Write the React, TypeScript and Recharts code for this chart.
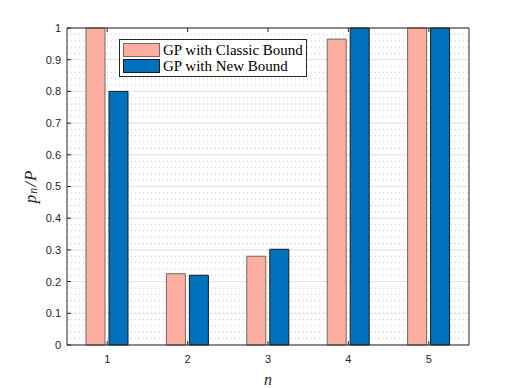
import React from 'react';
import { BarChart, Bar, XAxis, YAxis, CartesianGrid, Legend } from 'recharts';

const categories = ['1', '2', '3', '4', '5'];
const classicBound = [1, 0.225, 0.28, 0.965, 1];
const newBound = [0.8, 0.22, 0.302, 1, 1];
const yTicks = [0, 0.1, 0.2, 0.3, 0.4, 0.5, 0.6, 0.7, 0.8, 0.9, 1];
const minorTicks = Array.from({ length: 51 }, (_, i) => i / 50);

const PINK = '#FDAEA0';
const BLUE = '#0072BD';
const AXIS = '#262626';

const data = categories.map((n, i) => ({ n, classic: classicBound[i], nb: newBound[i] }));

const YLabel = ({ viewBox }: any) => {
  const cx = 30;
  const cy = viewBox.y + viewBox.height / 2;
  return (
    <text
      x={cx}
      y={cy}
      transform={`rotate(-90 ${cx} ${cy})`}
      textAnchor="middle"
      dominantBaseline="central"
      fontFamily="'Liberation Serif', serif"
      fontStyle="italic"
      fontSize={17}
      letterSpacing={1}
      fill={AXIS}
    >
      p<tspan fontSize={12} dy={3}>n</tspan>
      <tspan dy={-3}>/P</tspan>
    </text>
  );
};

const LegendBox = () => (
  <div
    style={{
      border: `1px solid ${AXIS}`,
      background: '#fff',
      padding: '2px 3px 2px 3px',
      fontFamily: "'Liberation Serif', serif",
      fontSize: 15,
      color: '#000',
      lineHeight: '16px',
      whiteSpace: 'nowrap',
    }}
  >
    {[
      { label: 'GP with Classic Bound', fill: PINK, stroke: '#6b6b6b' },
      { label: 'GP with New Bound', fill: BLUE, stroke: '#1a1a1a' },
    ].map((e) => (
      <div key={e.label} style={{ display: 'flex', alignItems: 'center', height: 16 }}>
        <span
          style={{
            display: 'inline-block',
            width: 35,
            height: 12,
            background: e.fill,
            border: `1px solid ${e.stroke}`,
            marginRight: 3,
          }}
        />
        <span>{e.label}</span>
      </div>
    ))}
  </div>
);

export default function App() {
  return (
    <div style={{ position: 'absolute', left: 0, top: 0, width: 518, height: 388, background: '#fff' }}>
      <BarChart
        width={518}
        height={388}
        data={data}
        margin={{ top: 0, right: 0, left: 0, bottom: 0 }}
        barSize={19}
        barGap={4}
      >
        <CartesianGrid
          xAxisId="b"
          yAxisId="l"
          vertical={false}
          horizontalValues={minorTicks}
          stroke="#c8c8c8"
          strokeDasharray="1 3"
        />
        <CartesianGrid
          xAxisId="b"
          yAxisId="l"
          vertical={false}
          horizontalValues={yTicks}
          stroke="#e3e3e3"
        />
        <XAxis
          xAxisId="b"
          dataKey="n"
          height={43}
          stroke={AXIS}
          tickSize={-4}
          tickMargin={14}
          tick={{ fill: AXIS, fontSize: 11, fontFamily: "'Liberation Sans', Arial, sans-serif" }}
          label={{
            value: 'n',
            position: 'insideBottom',
            offset: 3,
            fill: AXIS,
            fontSize: 16,
            fontStyle: 'italic',
            fontFamily: "'Liberation Serif', serif",
          }}
        />
        <XAxis
          xAxisId="t"
          dataKey="n"
          orientation="top"
          height={28}
          stroke={AXIS}
          tickSize={-4}
          tickFormatter={() => ''}
        />
        <YAxis
          yAxisId="l"
          width={67}
          domain={[0, 1]}
          ticks={yTicks}
          stroke={AXIS}
          tickSize={-4}
          tickMargin={10}
          interval={0}
          tick={{ fill: AXIS, fontSize: 11, fontFamily: "'Liberation Sans', Arial, sans-serif" }}
          label={<YLabel />}
        />
        <YAxis
          yAxisId="r"
          orientation="right"
          width={49}
          domain={[0, 1]}
          ticks={yTicks}
          stroke={AXIS}
          tickSize={-4}
          interval={0}
          tickFormatter={() => ''}
        />
        <Legend
          layout="vertical"
          align="center"
          verticalAlign="middle"
          content={<LegendBox />}
          wrapperStyle={{ left: 119, top: 39, width: 188 }}
        />
        <Bar
          xAxisId="b"
          yAxisId="l"
          dataKey="classic"
          fill={PINK}
          stroke="#6b6b6b"
          strokeWidth={1}
          isAnimationActive={false}
        />
        <Bar
          xAxisId="b"
          yAxisId="l"
          dataKey="nb"
          fill={BLUE}
          stroke="#1a1a1a"
          strokeWidth={1}
          isAnimationActive={false}
        />
      </BarChart>
    </div>
  );
}
